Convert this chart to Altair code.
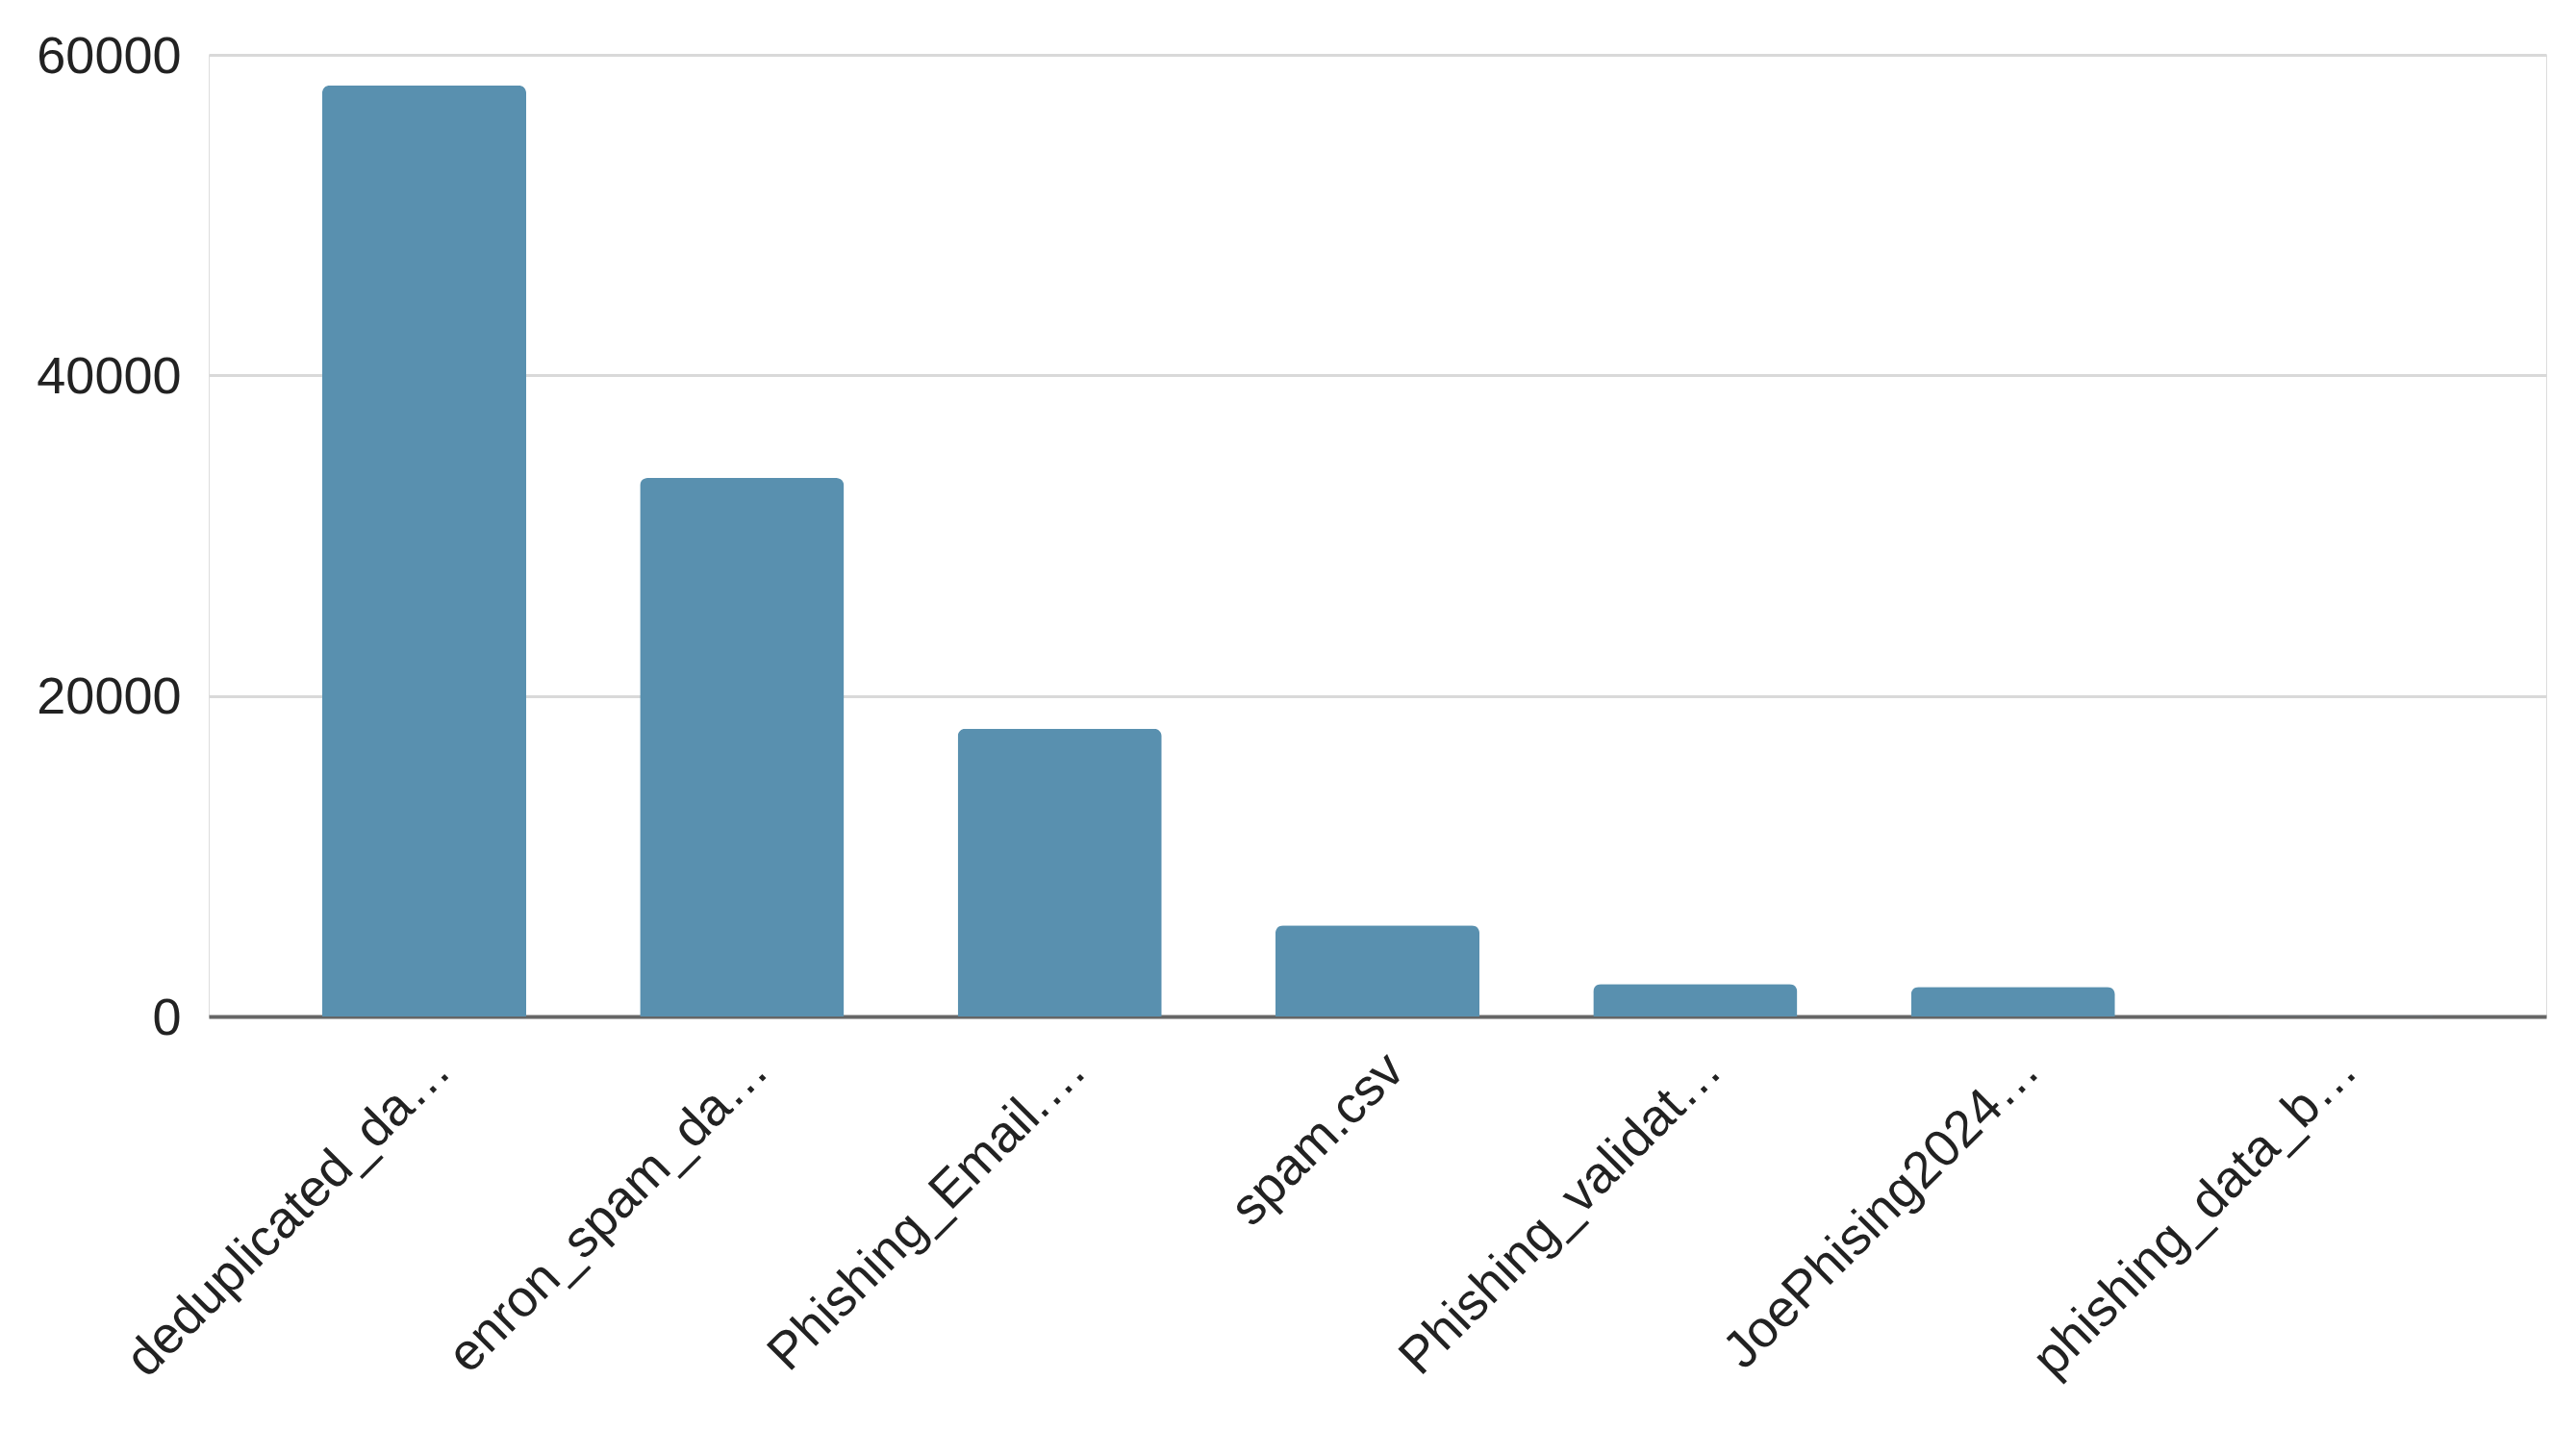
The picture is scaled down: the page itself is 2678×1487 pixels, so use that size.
import altair as alt
import pandas as pd

categories = [
    "deduplicated_da…",
    "enron_spam_da…",
    "Phishing_Email.…",
    "spam.csv",
    "Phishing_validat…",
    "JoePhising2024…",
    "phishing_data_b…",
]
counts = [58100, 33600, 17950, 5680, 2020, 1840, 30]

df = pd.DataFrame({"dataset": categories, "count": counts})

FONT = "Liberation Sans"

chart = (
    alt.Chart(df)
    .mark_bar(color="#5990AF", cornerRadiusTopLeft=8, cornerRadiusTopRight=8)
    .encode(
        x=alt.X(
            "dataset:N",
            sort=categories,
            title=None,
            scale=alt.Scale(paddingInner=0.358, paddingOuter=0.357),
            axis=alt.Axis(
                labelAngle=-45,
                labelAlign="right",
                labelBaseline="top",
                labelFont=FONT,
                labelFontSize=54,
                labelColor="#222222",
                labelLimit=0,
                labelPadding=28,
                ticks=False,
                domain=True,
                domainColor="#666666",
                domainWidth=4,
                grid=False,
            ),
        ),
        y=alt.Y(
            "count:Q",
            title=None,
            scale=alt.Scale(domain=[0, 60000], nice=False),
            axis=alt.Axis(
                values=[0, 20000, 40000, 60000],
                format="d",
                labelFont=FONT,
                labelFontSize=54,
                labelColor="#222222",
                labelPadding=29,
                labelBaseline="middle",
                labelOffset=2,
                ticks=False,
                domain=False,
                grid=True,
                gridColor="#d9d9d9",
                gridWidth=3,
            ),
        ),
    )
    .properties(
        width=2430,
        height=1000,
        autosize=alt.AutoSizeParams(type="none"),
        padding={"left": 209, "top": 49, "right": 23, "bottom": 420},
    )
    .configure_view(stroke=None)
    .configure(background="white")
)

chart.save("out.html", embed_options={"renderer": "svg", "actions": False})
